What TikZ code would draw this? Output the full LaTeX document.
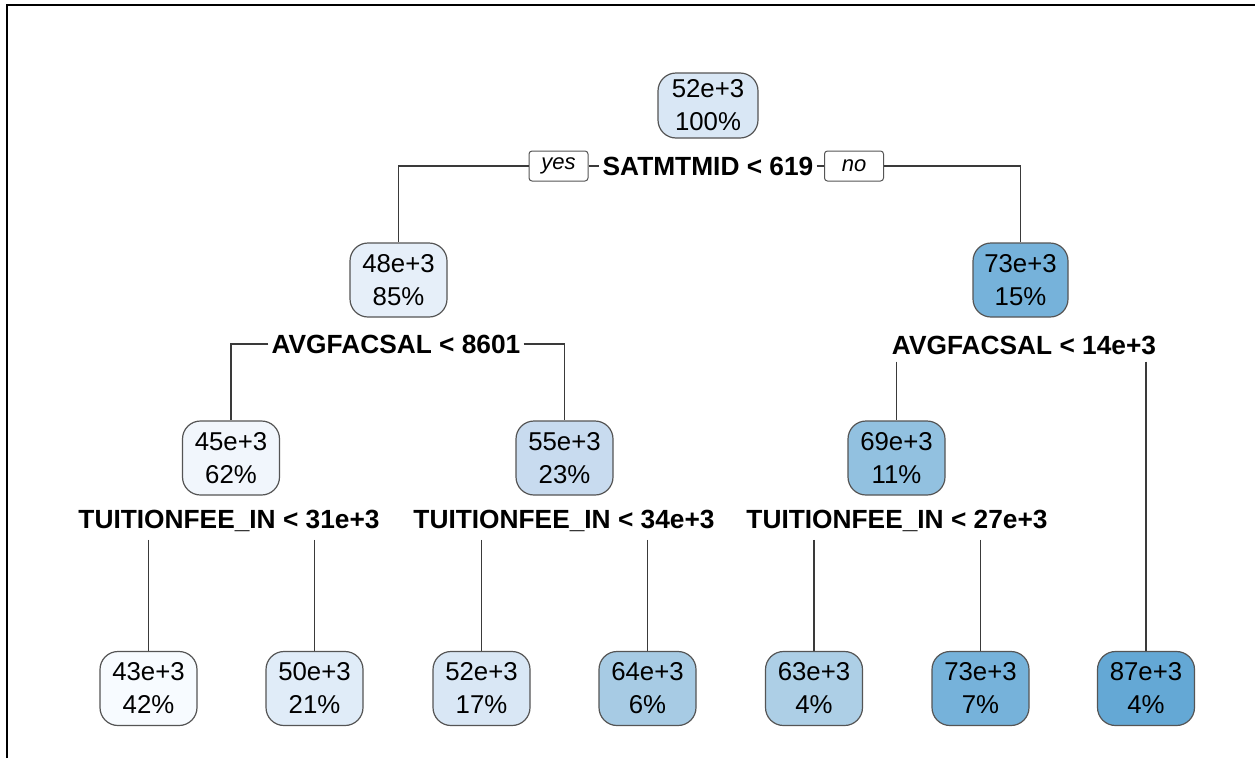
\documentclass[tikz,border=0pt]{standalone}
\usepackage{fontspec}
\setmainfont{Liberation Sans}
\definecolor{boxgray}{HTML}{555555}
\definecolor{linegray}{HTML}{3A3A3A}
\definecolor{cA}{HTML}{F7FBFF}
\definecolor{cB}{HTML}{F1F6FC}
\definecolor{cC}{HTML}{E6EFF9}
\definecolor{cD}{HTML}{E0ECF8}
\definecolor{cE}{HTML}{D9E7F5}
\definecolor{cF}{HTML}{C8DBEF}
\definecolor{cG}{HTML}{ADCFE6}
\definecolor{cH}{HTML}{A7CBE4}
\definecolor{cI}{HTML}{92C1E0}
\definecolor{cJ}{HTML}{76B2DA}
\definecolor{cK}{HTML}{64A8D5}
\tikzset{
  treebox/.style={draw=boxgray, line width=1.2pt, rounded corners=18pt,
    minimum width=97pt, minimum height=74pt, inner sep=0pt, align=center,
    font=\fontsize{25.8}{33}\selectfont},
  splitlbl/.style={font=\fontsize{26.3}{30}\bfseries\selectfont, inner sep=3pt},
  yesno/.style={draw=boxgray, line width=1pt, rounded corners=3pt, fill=white,
    font=\fontsize{22}{24}\itshape\selectfont, minimum width=59pt,
    minimum height=30pt, inner sep=0pt},
  conn/.style={draw=linegray, line width=1.2pt}
}
\begin{document}
\begin{tikzpicture}[x=1pt,y=-1pt]
\useasboundingbox (0,0) rectangle (1255,758);
\fill[white] (0,0) rectangle (1255,758);
\draw[black, line width=2.2pt] (7,758) -- (7,5) -- (1255,5);

% nodes
\node[treebox, fill=cE, minimum width=100pt, minimum height=65pt] (root) at (708,105.5) {52e+3\\100\%};
\node[treebox, fill=cC] (n48) at (398.5,280) {48e+3\\85\%};
\node[treebox, fill=cJ, minimum width=95pt] (n73) at (1020.5,280) {73e+3\\15\%};
\node[treebox, fill=cB] (n45) at (231,458) {45e+3\\62\%};
\node[treebox, fill=cF] (n55) at (564.5,458) {55e+3\\23\%};
\node[treebox, fill=cI] (n69) at (896.5,458) {69e+3\\11\%};
\node[treebox, fill=cA] (l43) at (148.5,688.5) {43e+3\\42\%};
\node[treebox, fill=cD] (l50) at (314.5,688.5) {50e+3\\21\%};
\node[treebox, fill=cE] (l52) at (481.5,688.5) {52e+3\\17\%};
\node[treebox, fill=cH] (l64) at (647.5,688.5) {64e+3\\6\%};
\node[treebox, fill=cG] (l63) at (814,688.5) {63e+3\\4\%};
\node[treebox, fill=cJ] (l73) at (980.5,688.5) {73e+3\\7\%};
\node[treebox, fill=cK] (l87) at (1146,688.5) {87e+3\\4\%};

% split labels
\node[splitlbl] (s0) at (708,166) {SATMTMID < 619};
\node[yesno] (yes) at (558.5,166) {yes};
\node[yesno] (no) at (854,166) {no};
\node[splitlbl] (s1) at (396,344) {AVGFACSAL < 8601};
\node[splitlbl] (s2) at (1024,345) {AVGFACSAL < 14e+3};
\node[splitlbl] (t1) at (229,521) {TUITIONFEE\_IN < 31e+3};
\node[splitlbl] (t2) at (564,521) {TUITIONFEE\_IN < 34e+3};
\node[splitlbl] (t3) at (897,521) {TUITIONFEE\_IN < 27e+3};

% connectors
\draw[conn] (yes.west) -| (n48.north);
\draw[conn] (yes.east) -- (s0.west);
\draw[conn] (s0.east) -- (no.west);
\draw[conn] (no.east) -| (n73.north);
\draw[conn] (s1.west) -| (n45.north);
\draw[conn] (s1.east) -| (n55.north);
\draw[conn] ([yshift=-4pt]s2.south -| n69.north) -- (n69.north);
\draw[conn] ([yshift=-4pt]s2.south -| l87.north) -- (l87.north);
\draw[conn] ([yshift=-5pt]t1.south -| l43.north) -- (l43.north);
\draw[conn] ([yshift=-5pt]t1.south -| l50.north) -- (l50.north);
\draw[conn] ([yshift=-5pt]t2.south -| l52.north) -- (l52.north);
\draw[conn] ([yshift=-5pt]t2.south -| l64.north) -- (l64.north);
\draw[conn] ([yshift=-5pt]t3.south -| l63.north) -- (l63.north);
\draw[conn] ([yshift=-5pt]t3.south -| l73.north) -- (l73.north);
\end{tikzpicture}
\end{document}
